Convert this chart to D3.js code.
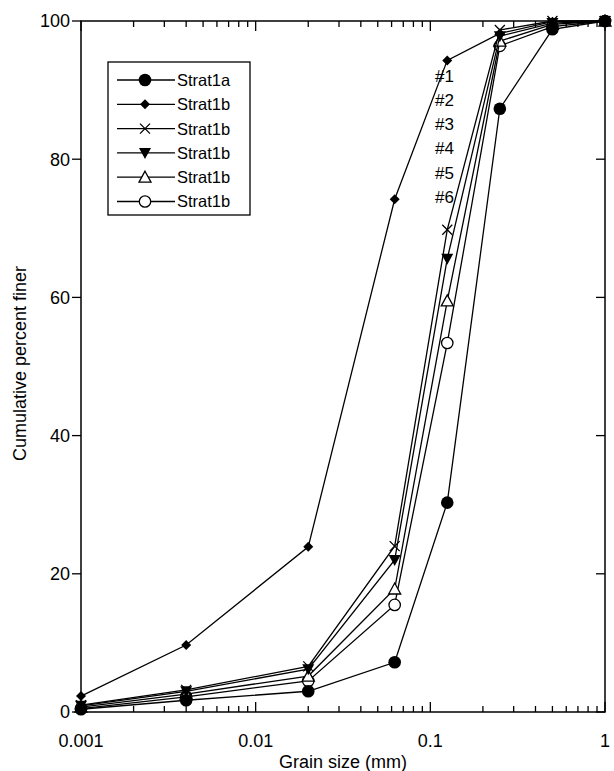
<!DOCTYPE html>
<html>
<head>
<meta charset="utf-8">
<script src="https://cdn.jsdelivr.net/npm/d3@7"></script>
<style>
  body { margin: 0; background: #fff; }
  text { font-family: "Liberation Sans", Arial, sans-serif; fill: #000; }
</style>
</head>
<body>
<div class="chart"></div>
<script>
// grain sizes (mm)
const sizes = [0.001, 0.004, 0.02, 0.0625, 0.125, 0.25, 0.5, 1];
// cumulative percent finer
const strat1a  = [0.4, 1.7, 3.0, 7.2, 30.3, 87.3, 98.8, 100];
const strat1b1 = [2.3, 9.7, 23.9, 74.2, 94.3, 98.2, 99.9, 100];
const strat1b2 = [1.0, 3.2, 6.6, 24.0, 69.8, 98.7, 100, 100];
const strat1b3 = [0.9, 3.0, 6.2, 22.0, 65.6, 97.8, 99.7, 100];
const strat1b4 = [0.7, 2.6, 5.2, 17.8, 59.5, 97.1, 99.5, 100];
const strat1b5 = [0.5, 2.2, 4.5, 15.5, 53.4, 96.4, 99.2, 100];
const seriesNames = ["Strat1a", "Strat1b", "Strat1b", "Strat1b", "Strat1b", "Strat1b"];
const seriesMarkers = ["circle", "diamond", "cross", "triangleDown", "triangleUp", "openCircle"];
const sampleLabels = ["#1", "#2", "#3", "#4", "#5", "#6"];
const xTickValues = [0.001, 0.01, 0.1, 1];
const yTickValues = [0, 20, 40, 60, 80, 100];

const allSeries = [strat1a, strat1b1, strat1b2, strat1b3, strat1b4, strat1b5];

const margin = ({top: 21, right: 9, bottom: 59, left: 81});
const width = 614 - margin.left - margin.right,
      height = 771 - margin.top - margin.bottom;

const svg = d3.select(".chart")
              .append("svg")
              .attr("width", 614)
              .attr("height", 771)
              .append("g")
              .attr("transform", "translate(" + margin.left + "," + margin.top + ")");

const xScale = d3.scaleLog().domain([0.001, 1]).range([0, width]);
const yScale = d3.scaleLinear().domain([0, 100]).range([height, 0]);

// minor ticks for log axis
const minorTicks = [];
[0.001, 0.01, 0.1].forEach(d => { for (let k = 2; k <= 9; k++) minorTicks.push(d * k); });

function drawXTicks(g, y, dir) {
    g.selectAll(".major").data(xTickValues).join("line")
     .attr("x1", d => xScale(d)).attr("x2", d => xScale(d))
     .attr("y1", y).attr("y2", y + dir * 10)
     .attr("stroke", "#000").attr("stroke-width", 1.3);
    g.selectAll(".minor").data(minorTicks).join("line")
     .attr("x1", d => xScale(d)).attr("x2", d => xScale(d))
     .attr("y1", y).attr("y2", y + dir * 6)
     .attr("stroke", "#000").attr("stroke-width", 1.3);
}
drawXTicks(svg.append("g"), height, -1);
drawXTicks(svg.append("g"), 0, 1);

// y ticks: outward left, inward right
svg.append("g").selectAll("line").data(yTickValues).join("line")
   .attr("x1", -9).attr("x2", 0)
   .attr("y1", d => yScale(d)).attr("y2", d => yScale(d))
   .attr("stroke", "#000").attr("stroke-width", 1.3);
svg.append("g").selectAll("line").data(yTickValues).join("line")
   .attr("x1", width - 9).attr("x2", width)
   .attr("y1", d => yScale(d)).attr("y2", d => yScale(d))
   .attr("stroke", "#000").attr("stroke-width", 1.3);

// frame
svg.append("rect")
   .attr("width", width).attr("height", height)
   .attr("fill", "none").attr("stroke", "#000").attr("stroke-width", 1.5);

// tick labels
svg.append("g").selectAll("text").data(yTickValues).join("text")
   .attr("x", -11).attr("y", d => yScale(d)).attr("dy", "0.36em")
   .attr("text-anchor", "end").attr("font-size", 18)
   .text(d => d);
svg.append("g").selectAll("text").data(xTickValues).join("text")
   .attr("x", d => xScale(d)).attr("y", height + 35)
   .attr("text-anchor", "middle").attr("font-size", 18)
   .text(d => d);

// axis titles
svg.append("text")
   .attr("x", width / 2).attr("y", height + 56)
   .attr("text-anchor", "middle").attr("font-size", 18)
   .text("Grain size (mm)");
svg.append("text")
   .attr("transform", `translate(${-55},${height / 2 - 3}) rotate(-90)`)
   .attr("text-anchor", "middle").attr("font-size", 18)
   .text("Cumulative percent finer");

// marker drawing
function drawMarker(g, type) {
    if (type === "circle") {
        g.append("circle").attr("r", 6.3).attr("fill", "#000");
    } else if (type === "openCircle") {
        g.append("circle").attr("r", 5.7).attr("fill", "#fff").attr("stroke", "#000").attr("stroke-width", 1.3);
    } else if (type === "diamond") {
        g.append("path").attr("d", "M0,-5L5,0L0,5L-5,0Z").attr("fill", "#000");
    } else if (type === "cross") {
        g.append("path").attr("d", "M-5,-5L5,5M-5,5L5,-5").attr("stroke", "#000").attr("stroke-width", 1.3);
    } else if (type === "triangleDown") {
        g.append("path").attr("d", "M-6,-5L6,-5L0,6Z").attr("fill", "#000");
    } else if (type === "triangleUp") {
        g.append("path").attr("d", "M0,-6L6,5L-6,5Z").attr("fill", "#fff").attr("stroke", "#000").attr("stroke-width", 1.3);
    }
}

const line = d3.line()
               .x(d => xScale(d[0]))
               .y(d => yScale(d[1]));

// draw series (last first so Strat1a is on top)
allSeries.slice().reverse().forEach((vals, ri) => {
    const i = allSeries.length - 1 - ri;
    const pts = sizes.map((s, j) => [s, vals[j]]);
    svg.append("path")
       .datum(pts)
       .attr("d", line)
       .attr("fill", "none")
       .attr("stroke", "#000")
       .attr("stroke-width", 1.3);
    pts.forEach(p => {
        const g = svg.append("g").attr("transform", `translate(${xScale(p[0])},${yScale(p[1])})`);
        drawMarker(g, seriesMarkers[i]);
    });
});

// sample labels #1..#6
svg.append("g").selectAll("text").data(sampleLabels).join("text")
   .attr("x", 354).attr("y", (d, i) => 60.5 + i * 24.3)
   .attr("font-size", 17)
   .text(d => d);

// legend
const legend = svg.append("g").attr("transform", "translate(27,41)");
legend.append("rect")
      .attr("width", 142).attr("height", 153)
      .attr("fill", "#fff").attr("stroke", "#000").attr("stroke-width", 1.3);
seriesNames.forEach((name, i) => {
    const y = 18 + i * 24.3;
    legend.append("line")
          .attr("x1", 9).attr("x2", 67).attr("y1", y).attr("y2", y)
          .attr("stroke", "#000").attr("stroke-width", 1.3);
    drawMarker(legend.append("g").attr("transform", `translate(37,${y})`), seriesMarkers[i]);
    legend.append("text")
          .attr("x", 69).attr("y", y).attr("dy", "0.36em")
          .attr("font-size", 16.5)
          .text(name);
});
</script>
</body>
</html>
